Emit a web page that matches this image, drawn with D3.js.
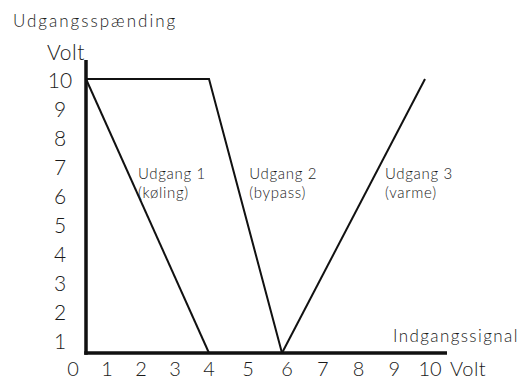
<!DOCTYPE html>
<html>
<head>
<meta charset="utf-8">
<script src="https://cdn.jsdelivr.net/npm/d3@7"></script>
<style>
  body { margin: 0; background: #fff; }
  svg text { font-family: "Lato", "DejaVu Sans", sans-serif; font-weight: 300; fill: #1a1a1a; }
</style>
</head>
<body>
<div id="chart"></div>
<script>
// input signal (x) / output voltage (y) per output
const udgang1 = [[0, 10], [4, 0]];
const udgang2 = [[0, 10], [4, 10], [6, 0]];
const udgang3 = [[6, 0], [10, 10]];
const udgange = [udgang1, udgang2, udgang3];

const xTicks = [0, 1, 2, 3, 4, 5, 6, 7, 8, 9, 10];
const yTicks = [1, 2, 3, 4, 5, 6, 7, 8, 9, 10];

const labels = [
    {x: 1.69, name: "Udgang 1", sub: "(køling)"},
    {x: 5.1, name: "Udgang 2", sub: "(bypass)"},
    {x: 8.88, name: "Udgang 3", sub: "(varme)"}
];

const width = 522, height = 380;

let svg = d3.select("#chart").append("svg")
    .attr("width", width)
    .attr("height", height);

// the drawing is hand made, so the x scale is not quite even
let xScale = d3.scaleLinear()
    .domain([0, 4, 6, 10])
    .range([86, 209, 282, 425]);
let yScale = d3.scaleLinear()
    .domain([0, 10])
    .range([353, 79]);

// tick labels sit on their own spacing
let xLabelScale = d3.scaleLinear()
    .domain([0, 4, 6, 10])
    .range([73, 209, 287, 430]);
let yLabelScale = d3.scaleLinear()
    .domain([1, 10])
    .range([341, 80]);

//axes
svg.append("line")
    .attr("x1", xScale(0)).attr("x2", xScale(0))
    .attr("y1", 60).attr("y2", yScale(0) + 1.75)
    .attr("stroke", "#111").attr("stroke-width", 3.5);
svg.append("line")
    .attr("x1", xScale(0) - 1.75).attr("x2", 447)
    .attr("y1", yScale(0)).attr("y2", yScale(0))
    .attr("stroke", "#111").attr("stroke-width", 3.5);

//output lines
let line = d3.line()
    .x(d => xScale(d[0]))
    .y(d => yScale(d[1]));

svg.append("g").selectAll("path")
    .data(udgange)
    .enter().append("path")
    .attr("d", line)
    .attr("fill", "none")
    .attr("stroke", "#111")
    .attr("stroke-width", 2);

//tick labels
svg.append("g").selectAll("text")
    .data(xTicks)
    .enter().append("text")
    .attr("x", d => xLabelScale(d))
    .attr("y", 376)
    .attr("text-anchor", "middle")
    .style("font-size", "20px")
    .text(d => d);

svg.append("g").selectAll("text")
    .data(yTicks)
    .enter().append("text")
    .attr("x", 60)
    .attr("y", d => yLabelScale(d) + 7.5)
    .attr("text-anchor", "middle")
    .style("font-size", "21px")
    .text(d => d);

svg.append("text")
    .attr("x", 450).attr("y", 376)
    .style("font-size", "20px")
    .style("letter-spacing", "0.5px")
    .text("Volt");
svg.append("text")
    .attr("x", 47).attr("y", 60)
    .style("font-size", "21px")
    .style("letter-spacing", "0.5px")
    .text("Volt");

svg.append("text")
    .attr("x", 13).attr("y", 27)
    .style("font-size", "17px")
    .style("letter-spacing", "2px")
    .text("Udgangsspænding");
svg.append("text")
    .attr("x", 393).attr("y", 342)
    .style("font-size", "17px")
    .style("letter-spacing", "1.4px")
    .text("Indgangssignal");

//output names
let g = svg.append("g").selectAll("g")
    .data(labels)
    .enter().append("g");
g.append("text")
    .attr("x", d => xScale(d.x))
    .attr("y", 179)
    .style("font-size", "15px")
    .style("letter-spacing", "0.7px")
    .text(d => d.name);
g.append("text")
    .attr("x", d => xScale(d.x))
    .attr("y", 198)
    .style("font-size", "15px")
    .style("letter-spacing", "0.7px")
    .text(d => d.sub);
</script>
</body>
</html>
